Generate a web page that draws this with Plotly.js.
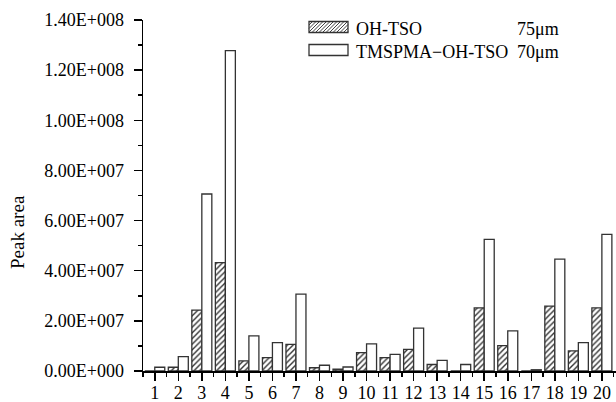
<!DOCTYPE html>
<html>
<head>
<meta charset="utf-8">
<script src="https://cdn.plot.ly/plotly-3.0.1.min.js"></script>
<style>html,body{margin:0;padding:0;background:#fff}#chart{width:616px;height:402px}</style>
</head>
<body>
<div id="chart"></div>
<script>
const categories = [1,2,3,4,5,6,7,8,9,10,11,12,13,14,15,16,17,18,19,20];
const ohTso = [0, 1.5e6, 24.3e6, 43.2e6, 4.0e6, 5.3e6, 10.6e6, 1.3e6, 0.7e6, 7.3e6, 5.3e6, 8.6e6, 2.6e6, 0, 25.2e6, 10.1e6, 0, 25.9e6, 8.0e6, 25.2e6];
const tmspmaOhTso = [1.5e6, 5.7e6, 70.6e6, 127.8e6, 14.0e6, 11.3e6, 30.7e6, 2.3e6, 1.6e6, 10.8e6, 6.6e6, 17.1e6, 4.2e6, 2.6e6, 52.5e6, 16.0e6, 0.5e6, 44.6e6, 11.3e6, 54.5e6];
const seriesNames = ['OH-TSO', 'TMSPMA\u2212OH-TSO'];
const thicknessLabels = ['75\u03bcm', '70\u03bcm'];
const yTickVals = [0, 2e7, 4e7, 6e7, 8e7, 1e8, 1.2e8, 1.4e8];
const yTickText = ['0.00E+000','2.00E+007','4.00E+007','6.00E+007','8.00E+007','1.00E+008','1.20E+008','1.40E+008'];
const yTitle = 'Peak area';

const FONT = 'Liberation Serif, Times New Roman, serif';
const W = 616, H = 402;
const M = {l: 143, r: 0, t: 20, b: 31};
const PW = W - M.l - M.r, PH = H - M.t - M.b;
const px = x => (x - M.l) / PW;       // page pixel -> paper x
const py = y => (H - M.b - y) / PH;   // page pixel -> paper y

// Legend layout (page pixels)
const legSwX0 = 309, legSwX1 = 348, legTextX = 354, extraX = 515;
const legRowY = [29, 52], legSwHalf = 5.5;

function hatchPath(x0, x1, yt, yb, step) {
  const h = yb - yt;
  let d = '';
  for (let a = x0 - h; a < x1; a += step) {
    const t0 = Math.max(0, x0 - a), t1 = Math.min(h, x1 - a);
    if (t1 <= t0) continue;
    d += 'M' + px(a + t0) + ',' + py(yb - t0) + 'L' + px(a + t1) + ',' + py(yb - t1);
  }
  return d;
}

const traces = [
  {
    type: 'bar', x: categories, y: ohTso, name: seriesNames[0],
    marker: {color: '#ffffff', line: {color: '#333333', width: 1.3},
      pattern: {shape: '/', size: 4, solidity: 0.35, fgcolor: '#333333', bgcolor: '#ffffff'}}
  },
  {
    type: 'bar', x: categories, y: tmspmaOhTso, name: seriesNames[1],
    marker: {color: '#ffffff', line: {color: '#333333', width: 1.3}}
  }
];

const shapes = [];
const annotations = [
  {xref: 'paper', yref: 'paper', x: px(17), y: py(232), xanchor: 'center', yanchor: 'middle', showarrow: false,
   textangle: -90, text: yTitle, font: {family: FONT, size: 19, color: '#000'}}
];
seriesNames.forEach((nm, i) => {
  const yc = legRowY[i];
  const yt = yc - 2 - legSwHalf, yb = yc - 2 + legSwHalf;
  if (i === 0) {
    shapes.push({type: 'path', xref: 'paper', yref: 'paper', path: hatchPath(legSwX0, legSwX1, yt, yb, 3.5),
      line: {color: '#444444', width: 1}});
  }
  shapes.push({type: 'rect', xref: 'paper', yref: 'paper', x0: px(legSwX0), x1: px(legSwX1), y0: py(yb), y1: py(yt),
    line: {color: '#333333', width: 1.3}, fillcolor: 'rgba(0,0,0,0)'});
  annotations.push({xref: 'paper', yref: 'paper', x: px(legTextX), y: py(yc), xanchor: 'left', yanchor: 'middle',
    showarrow: false, text: nm, font: {family: FONT, size: 18, color: '#000'}});
  annotations.push({xref: 'paper', yref: 'paper', x: px(extraX), y: py(yc), xanchor: 'left', yanchor: 'middle',
    showarrow: false, text: thicknessLabels[i], font: {family: FONT, size: 18, color: '#000'}});
});

const layout = {
  width: W, height: H,
  margin: {l: M.l, r: M.r, t: M.t, b: M.b, pad: 0},
  paper_bgcolor: '#ffffff', plot_bgcolor: '#ffffff',
  font: {family: FONT, size: 18, color: '#000'},
  barmode: 'group', bargap: 0.15, bargroupgap: 0,
  showlegend: false,
  xaxis: {
    range: [0.5, 20.6], tickmode: 'linear', tick0: 1, dtick: 1,
    showgrid: false, zeroline: false, showline: true, linecolor: '#000', linewidth: 1.5,
    ticks: 'outside', ticklen: 8, tickwidth: 1.5, tickcolor: '#000', ticklabelstandoff: -3,
    tickfont: {family: FONT, size: 18, color: '#000'},
    minor: {tickmode: 'linear', tick0: 0.5, dtick: 1, ticks: 'outside', ticklen: 4, tickwidth: 1.5, tickcolor: '#000', showgrid: false}
  },
  yaxis: {
    range: [0, 1.4e8], tickmode: 'array', tickvals: yTickVals, ticktext: yTickText,
    showgrid: false, zeroline: false, showline: true, linecolor: '#000', linewidth: 1.5,
    ticks: 'outside', ticklen: 8, tickwidth: 1.5, tickcolor: '#000', ticklabelstandoff: 6,
    tickfont: {family: FONT, size: 18, color: '#000'},
    minor: {tickmode: 'linear', tick0: 0, dtick: 1e7, ticks: 'outside', ticklen: 4, tickwidth: 1.5, tickcolor: '#000', showgrid: false}
  },
  shapes: shapes,
  annotations: annotations
};
Plotly.newPlot('chart', traces, layout, {displayModeBar: false, staticPlot: true});
</script>
</body>
</html>
